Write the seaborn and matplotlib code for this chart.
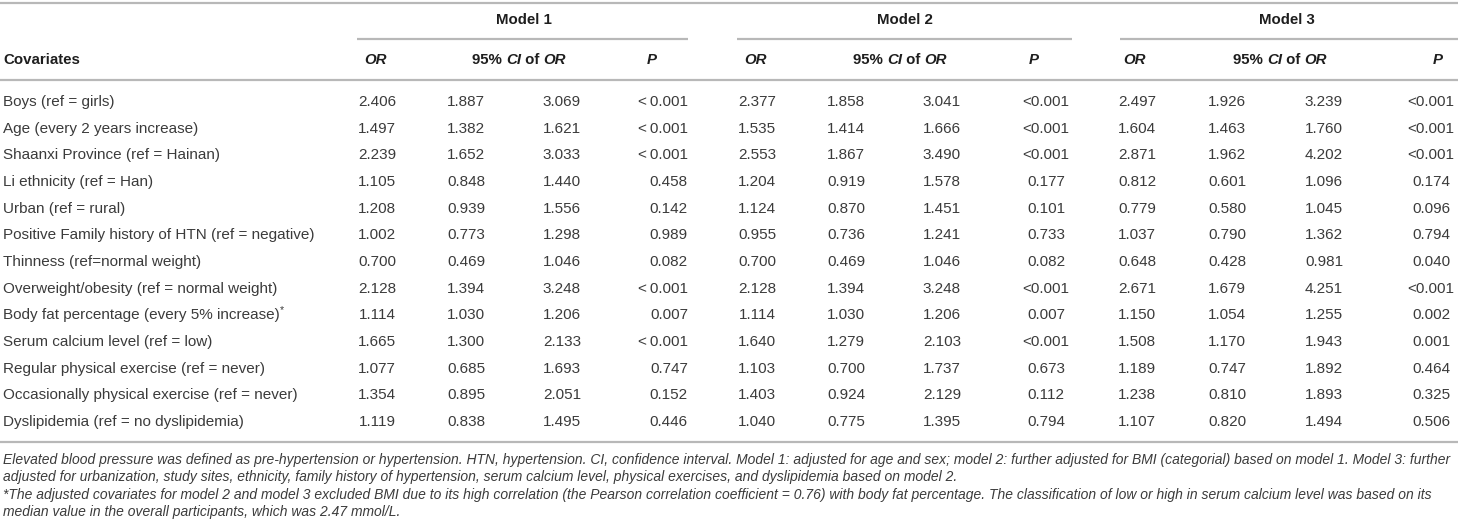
import matplotlib
matplotlib.use("Agg")
import matplotlib.pyplot as plt
import seaborn as sns

# ---------------- data ----------------
covariates = [
    "Boys (ref = girls)",
    "Age (every 2 years increase)",
    "Shaanxi Province (ref = Hainan)",
    "Li ethnicity (ref = Han)",
    "Urban (ref = rural)",
    "Positive Family history of HTN (ref = negative)",
    "Thinness (ref=normal weight)",
    "Overweight/obesity (ref = normal weight)",
    "Body fat percentage (every 5% increase)",
    "Serum calcium level (ref = low)",
    "Regular physical exercise (ref = never)",
    "Occasionally physical exercise (ref = never)",
    "Dyslipidemia (ref = no dyslipidemia)",
]
footnote_rows = [8]  # rows carrying a superscript asterisk

m1_or = [2.406, 1.497, 2.239, 1.105, 1.208, 1.002, 0.700, 2.128, 1.114, 1.665, 1.077, 1.354, 1.119]
m1_lo = [1.887, 1.382, 1.652, 0.848, 0.939, 0.773, 0.469, 1.394, 1.030, 1.300, 0.685, 0.895, 0.838]
m1_hi = [3.069, 1.621, 3.033, 1.440, 1.556, 1.298, 1.046, 3.248, 1.206, 2.133, 1.693, 2.051, 1.495]
m1_p = ["<\u20090.001", "<\u20090.001", "<\u20090.001", "0.458", "0.142", "0.989", "0.082",
        "<\u20090.001", "0.007", "<\u20090.001", "0.747", "0.152", "0.446"]

m2_or = [2.377, 1.535, 2.553, 1.204, 1.124, 0.955, 0.700, 2.128, 1.114, 1.640, 1.103, 1.403, 1.040]
m2_lo = [1.858, 1.414, 1.867, 0.919, 0.870, 0.736, 0.469, 1.394, 1.030, 1.279, 0.700, 0.924, 0.775]
m2_hi = [3.041, 1.666, 3.490, 1.578, 1.451, 1.241, 1.046, 3.248, 1.206, 2.103, 1.737, 2.129, 1.395]
m2_p = ["<0.001", "<0.001", "<0.001", "0.177", "0.101", "0.733", "0.082",
        "<0.001", "0.007", "<0.001", "0.673", "0.112", "0.794"]

m3_or = [2.497, 1.604, 2.871, 0.812, 0.779, 1.037, 0.648, 2.671, 1.150, 1.508, 1.189, 1.238, 1.107]
m3_lo = [1.926, 1.463, 1.962, 0.601, 0.580, 0.790, 0.428, 1.679, 1.054, 1.170, 0.747, 0.810, 0.820]
m3_hi = [3.239, 1.760, 4.202, 1.096, 1.045, 1.362, 0.981, 4.251, 1.255, 1.943, 1.892, 1.893, 1.494]
m3_p = ["<0.001", "<0.001", "<0.001", "0.174", "0.096", "0.794", "0.040",
        "<0.001", "0.002", "0.001", "0.464", "0.325", "0.506"]

model_titles = ["Model 1", "Model 2", "Model 3"]
first_col_title = "Covariates"

notes = [
    "Elevated blood pressure was defined as pre-hypertension or hypertension. HTN, hypertension. CI, confidence interval. "
    "Model 1: adjusted for age and sex; model 2: further adjusted for BMI (categorial) based on model 1. Model 3: further",
    "adjusted for urbanization, study sites, ethnicity, family history of hypertension, serum calcium level, physical exercises, "
    "and dyslipidemia based on model 2.",
    "*The adjusted covariates for model 2 and model 3 excluded BMI due to its high correlation (the Pearson correlation "
    "coefficient = 0.76) with body fat percentage. The classification of low or high in serum calcium level was based on its",
    "median value in the overall participants, which was 2.47 mmol/L.",
]

# ---------------- style ----------------
sns.set_theme(style="white")
plt.rcParams["font.family"] = ["Liberation Sans", "DejaVu Sans"]

W, H = 1458, 529
fig = plt.figure(figsize=(W / 100, H / 100), dpi=100)
ax = fig.add_axes([0, 0, 1, 1])
ax.set_xlim(0, W)
ax.set_ylim(H, 0)
ax.axis("off")
sns.despine(ax=ax, left=True, bottom=True)

renderer = fig.canvas.get_renderer()

TXT = "#3b3b3b"
HDR = "#1e1e1e"
LINE = "#b8b8b8"
BODY = 11.0
HSIZE = 10.8


def text_width(t):
    bb = t.get_window_extent(renderer=renderer)
    return bb.width


def rich(x, y, parts, ha="center", size=HSIZE, color=HDR):
    """parts: list of (string, weight, style)"""
    objs = []
    for s, w, st in parts:
        objs.append(ax.text(0, y, s, fontsize=size, fontweight=w, fontstyle=st,
                            color=color, va="center", ha="left"))
    widths = [text_width(o) for o in objs]
    total = sum(widths)
    if ha == "center":
        x0 = x - total / 2
    elif ha == "right":
        x0 = x - total
    else:
        x0 = x
    for o, wd in zip(objs, widths):
        o.set_x(x0)
        x0 += wd
    return objs


# ---------------- layout ----------------
y_model = 20
y_head = 60
row_y0 = 102
row_dy = 26.67
y_top, y_sub, y_head_line, y_bottom = 3, 39, 80, 442

groups = [
    dict(title_x=524, line=(357, 688), or_x=377, lo_x=466, hi_x=562, p_x=688, p_ha="right",
         h_or=376, h_ci=519, h_p=652, vals=(m1_or, m1_lo, m1_hi, m1_p)),
    dict(title_x=905, line=(737, 1072), or_x=757, lo_x=846, hi_x=942, p_x=1046, p_ha="center",
         h_or=756, h_ci=900, h_p=1034, vals=(m2_or, m2_lo, m2_hi, m2_p)),
    dict(title_x=1287, line=(1120, 1458), or_x=1137, lo_x=1227, hi_x=1324, p_x=1431, p_ha="center",
         h_or=1135, h_ci=1280, h_p=1438, vals=(m3_or, m3_lo, m3_hi, m3_p)),
]

# rules
ax.hlines([y_top, y_head_line, y_bottom], 0, W, color=LINE, lw=1.6)
for g in groups:
    ax.hlines(y_sub, g["line"][0], g["line"][1], color=LINE, lw=1.6)

# header
ax.text(3, y_head, first_col_title, fontsize=HSIZE, fontweight="bold", color=HDR, va="center", ha="left")
for title, g in zip(model_titles, groups):
    ax.text(g["title_x"], y_model, title, fontsize=HSIZE, fontweight="bold", color=HDR,
            va="center", ha="center")
    rich(g["h_or"], y_head, [("OR", "bold", "italic")])
    rich(g["h_ci"], y_head, [("95% ", "bold", "normal"), ("CI", "bold", "italic"),
                             (" of ", "bold", "normal"), ("OR", "bold", "italic")])
    rich(g["h_p"], y_head, [("P", "bold", "italic")])

# body
for i, name in enumerate(covariates):
    y = row_y0 + i * row_dy
    t = ax.text(3, y, name, fontsize=BODY, color=TXT, va="center", ha="left")
    if i in footnote_rows:
        wd = text_width(t)
        ax.text(3 + wd + 0.5, y - 5, "*", fontsize=BODY * 0.7, color=TXT, va="center", ha="left")
    for g in groups:
        o, lo, hi, p = g["vals"]
        ax.text(g["or_x"], y, f"{o[i]:.3f}", fontsize=BODY, color=TXT, va="center", ha="center")
        ax.text(g["lo_x"], y, f"{lo[i]:.3f}", fontsize=BODY, color=TXT, va="center", ha="center")
        ax.text(g["hi_x"], y, f"{hi[i]:.3f}", fontsize=BODY, color=TXT, va="center", ha="center")
        ax.text(g["p_x"], y, p[i], fontsize=BODY, color=TXT, va="center", ha=g["p_ha"])

# footnotes: scale font so the first line spans the table width
probe = ax.text(0, 0, notes[0], fontsize=10, fontstyle="italic")
fs = 10 * 1452 / text_width(probe)
probe.remove()
for yy, line in zip([460, 477, 495, 512], notes):
    ax.text(3, yy, line, fontsize=fs, fontstyle="italic", color=TXT, va="center", ha="left")

fig.savefig("out.png", dpi=100)
